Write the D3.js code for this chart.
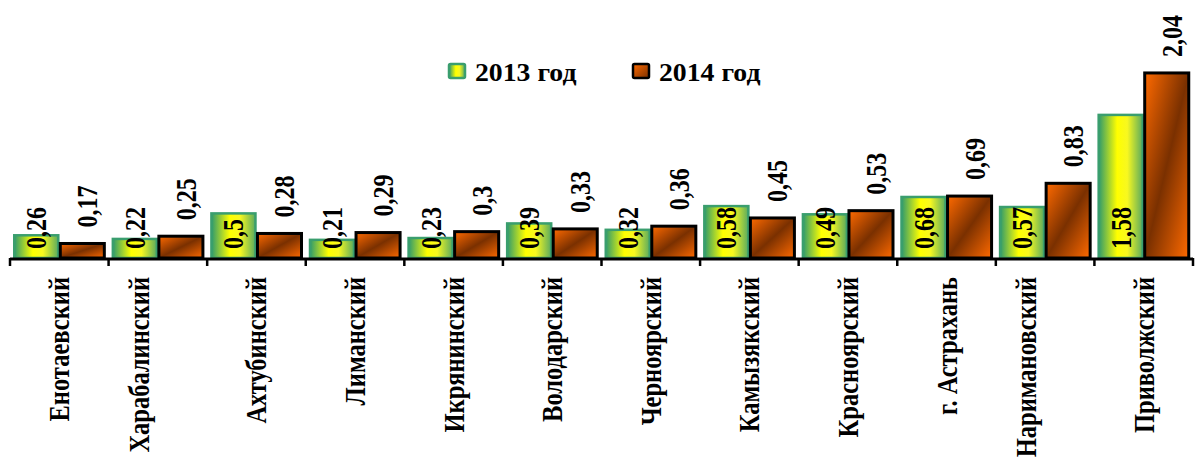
<!DOCTYPE html>
<html>
<head>
<meta charset="utf-8">
<script src="https://cdn.jsdelivr.net/npm/d3@7"></script>
<style>
  html, body { margin: 0; padding: 0; background: #fff; }
  svg { display: block; }
  text { font-family: "Liberation Serif", "Times New Roman", serif; font-weight: bold; fill: #000; }
</style>
</head>
<body>
<svg id="chart" width="1198" height="457"></svg>
<script>
const categories = ["Енотаевский", "Харабалинский", "Ахтубинский", "Лиманский", "Икрянинский", "Володарский",
  "Черноярский", "Камызякский", "Красноярский", "г. Астрахань", "Наримановский", "Приволжский"];
const values2013 = [0.26, 0.22, 0.5, 0.21, 0.23, 0.39, 0.32, 0.58, 0.49, 0.68, 0.57, 1.58];
const values2014 = [0.17, 0.25, 0.28, 0.29, 0.3, 0.33, 0.36, 0.45, 0.53, 0.69, 0.83, 2.04];
const seriesNames = ["2013 год", "2014 год"];

const svg = d3.select("#chart");
const defs = svg.append("defs");

const g13 = defs.append("linearGradient").attr("id", "grad13")
  .attr("x1", 0).attr("y1", 0).attr("x2", 1).attr("y2", 0);
[["0%", "#2f9a6c"], ["42%", "#ffff00"], ["65%", "#f8f820"], ["100%", "#5aab5e"]]
  .forEach(([o, c]) => g13.append("stop").attr("offset", o).attr("stop-color", c));

const g14 = defs.append("linearGradient").attr("id", "grad14")
  .attr("x1", 0).attr("y1", 0).attr("x2", 1).attr("y2", 1);
[["0%", "#ff6a00"], ["50%", "#7a3000"], ["100%", "#ff6a00"]]
  .forEach(([o, c]) => g14.append("stop").attr("offset", o).attr("stop-color", c));

const g14L = defs.append("linearGradient").attr("id", "grad14L")
  .attr("x1", 0).attr("y1", 0).attr("x2", 1).attr("y2", 1);
[["0%", "#ff6a00"], ["100%", "#7a3000"]]
  .forEach(([o, c]) => g14L.append("stop").attr("offset", o).attr("stop-color", c));

const baseY = 258;
const x0 = d3.scaleBand().domain(categories).range([10, 1193]).paddingInner(0.066).paddingOuter(0.033);
const x1 = d3.scaleBand().domain(seriesNames).range([0, x0.bandwidth()]).padding(0);
const y = d3.scaleLinear().domain([0, 2.2]).range([baseY, baseY - 2.2 * 91.2]);

const fmt = v => String(v).replace(".", ",");
const data = categories.map((c, i) => ({ cat: c, v13: values2013[i], v14: values2014[i] }));

// bars 2013
svg.append("g").selectAll("rect").data(data).join("rect")
  .attr("x", d => x0(d.cat) + x1(seriesNames[0]) + 1)
  .attr("y", d => y(d.v13) + 1)
  .attr("width", x1.bandwidth() - 2)
  .attr("height", d => y(0) - y(d.v13) - 1)
  .attr("fill", "url(#grad13)")
  .attr("stroke", "#3a9e6e").attr("stroke-width", 2.5);

// bars 2014
svg.append("g").selectAll("rect").data(data).join("rect")
  .attr("x", d => x0(d.cat) + x1(seriesNames[1]) + 1)
  .attr("y", d => y(d.v14) + 1)
  .attr("width", x1.bandwidth() - 2)
  .attr("height", d => y(0) - y(d.v14) - 1)
  .attr("fill", "url(#grad14)")
  .attr("stroke", "#000").attr("stroke-width", 3);

// axis line + ticks between categories
const [r0, r1] = x0.range();
svg.append("line").attr("x1", r0).attr("x2", r1).attr("y1", baseY + 1).attr("y2", baseY + 1)
  .attr("stroke", "#000").attr("stroke-width", 3);
const bounds = d3.range(categories.length + 1).map(i => r0 + i * x0.step());
svg.append("g").selectAll("line").data(bounds).join("line")
  .attr("x1", d => d).attr("x2", d => d).attr("y1", baseY).attr("y2", baseY + 8)
  .attr("stroke", "#000").attr("stroke-width", 2.5);

// category labels
const catS = 1.19;
svg.append("g").selectAll("text").data(data).join("text")
  .attr("transform", d => {
    const cx = x0(d.cat) + x0.bandwidth() / 2 + 10 - (d.cat.length >= 13 ? 19 : 0);
    return `translate(${cx},277) scale(${catS},1) rotate(-90)`;
  })
  .attr("text-anchor", "end")
  .style("font-size", "24.5px")
  .text(d => d.cat);

// value labels
const valS = 1.22;
svg.append("g").selectAll("text").data(data).join("text")
  .attr("transform", d => {
    const cx = x0(d.cat) + x1(seriesNames[0]) + x1.bandwidth() / 2 + 10;
    return `translate(${cx},${baseY - 9}) scale(${valS},1) rotate(-90)`;
  })
  .attr("text-anchor", "start")
  .style("font-size", "24px")
  .text(d => fmt(d.v13));

svg.append("g").selectAll("text").data(data).join("text")
  .attr("transform", d => {
    const cx = x0(d.cat) + x1(seriesNames[1]) + x1.bandwidth() / 2 + 15;
    return `translate(${cx},${y(d.v14) - 15}) scale(${valS},1) rotate(-90)`;
  })
  .attr("text-anchor", "start")
  .style("font-size", "24px")
  .text(d => fmt(d.v14));

// legend
const legend = svg.append("g");
const legItems = [
  { name: seriesNames[0], x: 448, fill: "url(#grad13)", stroke: "#3a9e6e" },
  { name: seriesNames[1], x: 632, fill: "url(#grad14L)", stroke: "#000" }
];
legItems.forEach(it => {
  legend.append("rect").attr("x", it.x + 1).attr("y", 64).attr("width", 16).attr("height", 14)
    .attr("rx", 1.5).attr("fill", it.fill).attr("stroke", it.stroke).attr("stroke-width", 2.5);
  legend.append("text")
    .attr("transform", `translate(${it.x + 27},81) scale(1.11,1)`)
    .style("font-size", "25px")
    .text(it.name);
});
</script>
</body>
</html>
